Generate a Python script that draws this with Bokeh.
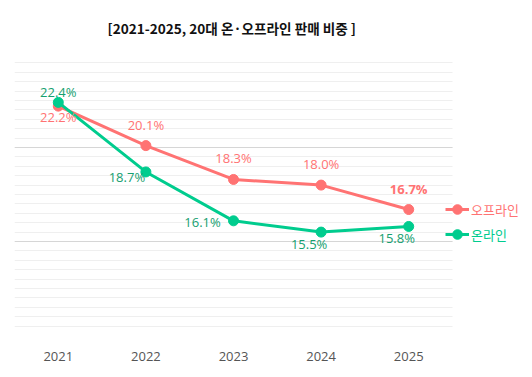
from bokeh.plotting import figure
from bokeh.models import ColumnDataSource, FixedTicker, Legend, LegendItem, Range1d, LabelSet
from bokeh.core.properties import value
from bokeh.embed import file_html
from bokeh.resources import INLINE

years = [2021, 2022, 2023, 2024, 2025]
offline = [22.2, 20.1, 18.3, 18.0, 16.7]
online = [22.4, 18.7, 16.1, 15.5, 15.8]
title_text = "[2021-2025, 20대 온·오프라인 판매 비중 ]"
offline_name = "오프라인"
online_name = "온라인"

OFF_C = "#ff7373"
ON_C = "#00cc8e"
ON_TXT = "#16a070"
KR = "Noto Sans CJK KR"
NUM = "Open Sans"

p = figure(width=532, height=377, output_backend="svg", toolbar_location=None,
           x_range=Range1d(2020.5, 2026.413), y_range=Range1d(10, 25),
           min_border_left=14, min_border_right=0, min_border_bottom=42, min_border_top=53)
p.outline_line_color = None
p.background_fill_color = "white"

p.title.text = title_text
p.title.align = "left"
p.title.offset = 93
p.title.text_font = KR
p.title.text_font_size = "13.6px"
p.title.text_font_style = "bold"
p.title.text_color = "#111111"
p.title.standoff = 31

p.xaxis.ticker = FixedTicker(ticks=years)
p.xaxis.axis_line_color = None
p.xaxis.major_tick_line_color = None
p.xaxis.minor_tick_line_color = None
p.xaxis.major_label_text_font = NUM
p.xaxis.major_label_text_font_size = "13px"
p.xaxis.major_label_text_color = "#555555"
p.xaxis.major_label_standoff = 10
p.xgrid.grid_line_color = None

p.yaxis.visible = False
p.yaxis.ticker = FixedTicker(ticks=[10, 15, 20, 25], minor_ticks=[10 + 0.5 * i for i in range(31)])
p.ygrid.grid_line_color = "#d6d6d6"
p.ygrid.grid_line_width = 1
p.ygrid.minor_grid_line_color = "#efefef"
p.ygrid.minor_grid_line_width = 1
p.ygrid.cross_bounds = (2020.5, 2025.5)

src = ColumnDataSource(dict(
    x=years, off=offline, on=online,
    off_lbl=[f"{v:.1f}%" for v in offline],
    on_lbl=[f"{v:.1f}%" for v in online],
    off_dy=[-20, 12, 12, 12, 12],
    on_dy=[1, -14, -10, -21, -21],
    on_dx=[0, -19, -31, -12, -12],
    off_style=["normal", "normal", "normal", "normal", "bold"],
))

l_off = p.line("x", "off", source=src, line_color=OFF_C, line_width=3)
c_off = p.scatter("x", "off", source=src, size=10, color=OFF_C)
l_on = p.line("x", "on", source=src, line_color=ON_C, line_width=3)
c_on = p.scatter("x", "on", source=src, size=10, color=ON_C)

off_labels = LabelSet(x="x", y="off", text="off_lbl", source=src, y_offset="off_dy",
                      text_align="center", text_baseline="bottom", text_color=OFF_C,
                      text_font=value(NUM), text_font_size="13px", text_font_style="off_style")
on_labels = LabelSet(x="x", y="on", text="on_lbl", source=src, y_offset="on_dy", x_offset="on_dx",
                     text_align="center", text_baseline="bottom", text_color=ON_TXT,
                     text_font=value(NUM), text_font_size="13px")
p.add_layout(off_labels)
p.add_layout(on_labels)

def mk_legend(name, renderers, color, loc):
    lg = Legend(items=[LegendItem(label=name, renderers=renderers)], location=loc,
                label_text_color=color, label_text_font=KR, label_text_font_size="13px",
                glyph_width=24, glyph_height=24, label_standoff=2, padding=0, margin=0,
                border_line_alpha=0, background_fill_alpha=0, label_height=24)
    p.add_layout(lg, "center")

mk_legend(offline_name, [l_off, c_off], OFF_C, (431, 114))
mk_legend(online_name, [l_on, c_on], ON_C, (431, 89))

open("out.html", "w").write(file_html(p, INLINE))
